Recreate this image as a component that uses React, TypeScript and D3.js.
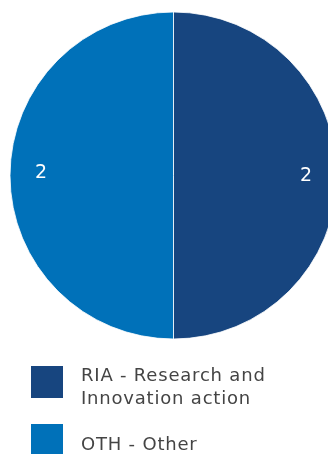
import React from "react";
import * as d3 from "d3";

const categories = ["RIA - Research and Innovation action", "OTH - Other"];
const legendLines = [["RIA - Research and", "Innovation action"], ["OTH - Other"]];
const values = [2, 2];
const colors = ["#17457f", "#0071b9"];

export default function App() {
  const width = 328;
  const height = 454;
  const cx = 173.5;
  const cy = 175.5;
  const r = 163.5;
  const pie = d3.pie<number>().sort(null).value((d) => d)(values);
  const arc = d3.arc<d3.PieArcDatum<number>>().innerRadius(0).outerRadius(r);
  const labelArc = d3.arc<d3.PieArcDatum<number>>().innerRadius(r * 0.81).outerRadius(r * 0.81);
  return (
    <svg width={width} height={height} style={{ position: "fixed", left: 0, top: 0 }}>
      <g transform={`translate(${cx},${cy})`}>
        {pie.map((p, i) => (
          <path key={i} d={arc(p) || ""} fill={colors[i]} stroke="#ffffff" strokeWidth={0.8} />
        ))}
        {pie.map((p, i) => {
          const [x, y] = labelArc.centroid(p);
          return (
            <text key={i} x={x} y={y + (i === 0 ? -1 : -4)} dy="0.35em" textAnchor="middle" fill="#ffffff"
              fontFamily="DejaVu Sans" fontSize={19}>
              {values[i]}
            </text>
          );
        })}
      </g>
      {categories.map((c, i) => {
        const y0 = 366 + i * 58;
        const ty = i === 0 ? 15 : 26;
        return (
          <g key={c} transform={`translate(31,${y0})`}>
            <rect width={32} height={32} fill={colors[i]} />
            {legendLines[i].map((line, j) => (
              <text key={j} x={50} y={ty + j * 23} fill="#444444" fontFamily="DejaVu Sans" fontSize={18}
                letterSpacing={0.8}>
                {line}
              </text>
            ))}
          </g>
        );
      })}
    </svg>
  );
}
